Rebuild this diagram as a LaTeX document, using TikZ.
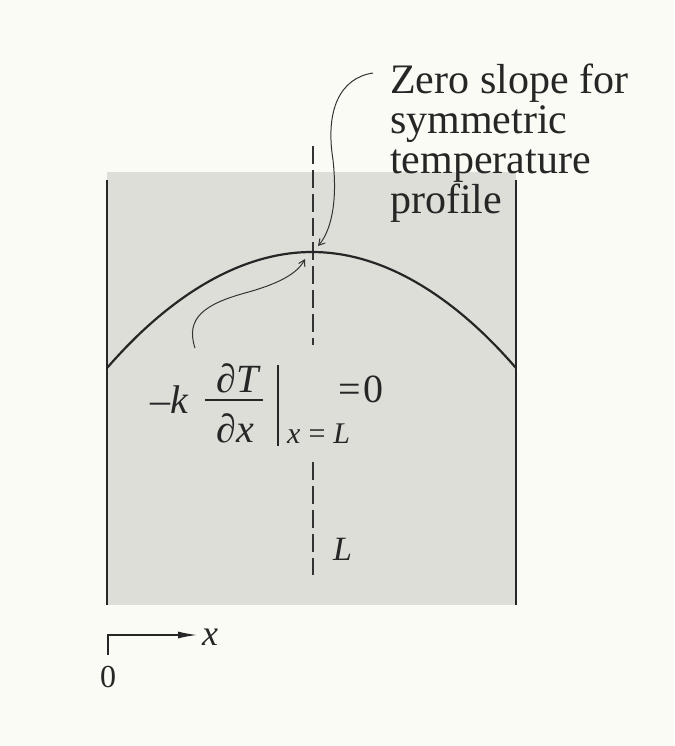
\documentclass[tikz,border=0pt]{standalone}
\usepackage{fontspec}
\setmainfont{Liberation Serif}
\usetikzlibrary{arrows.meta}
\definecolor{paper}{HTML}{FBFBF5}
\definecolor{slab}{HTML}{DEDED8}
\begin{document}
\begin{tikzpicture}[x=1pt,y=-1pt,
  wall/.style={line width=2pt,black!85},
  profile/.style={line width=2.2pt,black!85},
  centre/.style={line width=1.6pt,black!80,dash pattern=on 18pt off 6pt},
  callout/.style={line width=1pt,black!80,-{Straight Barb[length=6pt,width=7pt,line width=1pt]}},
  lbl/.style={inner sep=0pt,text=black!85},
  big/.style={lbl,font=\fontsize{42}{40}\selectfont},
  eq/.style={lbl,font=\fontsize{40}{42}\selectfont},
  sub/.style={lbl,font=\fontsize{30}{32}\selectfont},
]
\useasboundingbox (0,0) rectangle (674,746);
\fill[paper] (0,0) rectangle (674,746);
\fill[slab] (107,172) rectangle (516,605);
% walls
\draw[wall] (107,180) -- (107,605);
\draw[wall] (516,180) -- (516,605);
% centre line
\draw[centre] (313,146) -- (313,345);
\draw[centre] (313,462) -- (313,575);
% temperature profile
\draw[profile] (107,368) parabola bend (312,252) (516,368);
\coordinate (peak) at (313,252);
% texts
\node[big,anchor=north west,align=left] (zero) at (390,64)
  {Zero slope for\\symmetric\\temperature\\profile};
\node[eq,anchor=base] (mk) at (170,413) {–\textit{k}};
\node[eq,anchor=base] (num) at (239,392) {∂\textit{T}};
\node[eq,anchor=base] (den) at (235,442) {∂\textit{x}};
\coordinate (fl) at (205,400);
\coordinate (fr) at (263,400);
\draw[line width=1.3pt,black!85] (fl) -- (fr);
\coordinate (bt) at (278,365);
\coordinate (bb) at (278,446);
\draw[line width=1.5pt,black!85] (bt) -- (bb);
\node[sub,anchor=base west] (cond) at (287,443) {\textit{x}\hspace{8pt}=\hspace{8pt}\textit{L}};
\node[eq,anchor=base west] (eqz) at (338,402) {=\hspace{3pt}0};
\node[eq,font=\fontsize{34}{36}\selectfont\itshape,anchor=base west] (L) at (333,560) {L};
% callouts
\coordinate (a1) at (373,73);
\draw[callout] (a1) .. controls (340,78) and (325,110) .. (333,160)
  .. controls (338,205) and (330,232) .. (318,246);
\coordinate (a2) at (195,348);
\draw[callout] (a2)
  .. controls (185,318) and (205,304) .. (245,293)
  .. controls (278,284) and (297,274) .. (305,259);
% axis
\coordinate (o) at (108,635);
\coordinate (ot) at (108,655);
\coordinate (ox) at (197,635);
\draw[line width=1.3pt,black!85,-{Latex[length=19pt,width=7pt]}] (ot) -- (o) -- (ox);
\node[lbl,font=\fontsize{36}{38}\selectfont\itshape,anchor=base west] (xl) at (202,645) {x};
\node[lbl,font=\fontsize{32}{34}\selectfont,anchor=base] (zero0) at (108,687) {0};
\end{tikzpicture}
\end{document}
